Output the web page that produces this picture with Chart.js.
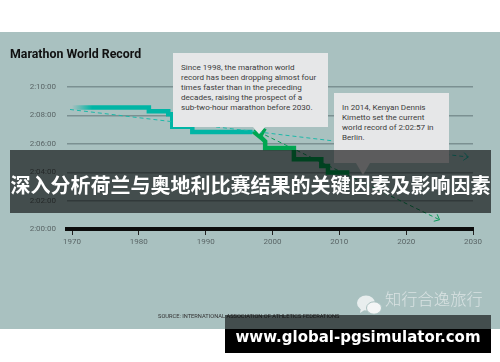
<!DOCTYPE html>
<html lang="zh-CN">
<head>
<meta charset="UTF-8">
<title>Marathon World Record</title>
<style>
    html, body { margin: 0; padding: 0; background: #fff; }
    #page { position: relative; width: 500px; height: 362px; overflow: hidden; font-family: Roboto, sans-serif; }
    #panel { position: absolute; left: 0; top: 32px; width: 500px; height: 297px; background: #a9c1c0; }
    #chart-box { position: absolute; left: 0; top: 0; width: 500px; height: 362px; }
    #title { position: absolute; left: 10px; top: 46px; font-size: 12.35px; line-height: 16px; font-weight: 700; color: #111; }
    .note { position: absolute; background: #e6e7e8; color: #3c3c3c; font-size: 8.1px; line-height: 10px; box-sizing: border-box; white-space: pre; }
    .tip { position: absolute; width: 0; height: 0; border-style: solid; border-color: #e6e7e8 transparent transparent transparent; }
    #source { position: absolute; left: 158px; top: 313px; font-size: 5.7px; line-height: 7px; color: #333; white-space: pre; }
    #wechat { position: absolute; left: 385px; top: 287px; font: 300 16.3px "Noto Sans CJK SC", sans-serif; line-height: 22px; color: #d9e2e2; }
    #banner { position: absolute; left: 10px; top: 150px; width: 481px; height: 63px; background: rgba(0,0,0,.6); color: #fff; font: 700 20px "Noto Sans CJK SC", sans-serif; line-height: 70px; text-align: center; white-space: pre; }
    #url-top { position: absolute; left: 225px; top: 315px; width: 266px; height: 14px; background: rgba(0,0,0,.6); }
    #url { position: absolute; left: 225px; top: 329px; width: 266px; height: 24px; background: #000; color: #fff; font: 700 15px "DejaVu Sans", sans-serif; line-height: 17px; text-align: center; white-space: pre; }
</style>
</head>
<body>
<div id="page">
    <div id="panel"></div>
    <div id="chart-box"><canvas id="chart" width="500" height="362"></canvas></div>
    <div id="title">Marathon World Record</div>
    <div class="note" style="left:173px;top:53px;width:155px;height:74px;padding:9px 8px">Since 1998, the marathon world
record has been dropping almost four
times faster than in the preceding
decades, raising the prospect of a
sub-two-hour marathon before 2030.</div>
    <div class="tip" style="left:253px;top:127px;border-width:7px 6px 0 6px"></div>
    <div class="note" style="left:334px;top:93px;width:115px;height:70px;padding:9px 8px">In 2014, Kenyan Dennis
Kimetto set the current
world record of 2:02:57 in
Berlin.</div>
    <div class="tip" style="left:356px;top:163px;border-width:12px 7px 0 7px"></div>
    <div id="source">SOURCE: INTERNATIONAL ASSOCIATION OF ATHLETICS FEDERATIONS</div>
    <svg style="position:absolute;left:356px;top:294px" width="26" height="22" viewBox="0 0 26 22">
        <ellipse cx="10" cy="9" rx="9" ry="7.5" fill="#e8eeee"/>
        <path d="M5 14 L4 19 L10 15 Z" fill="#e8eeee"/>
        <ellipse cx="18" cy="14" rx="7.5" ry="6.2" fill="#f4f6f6" stroke="#a9c1c0"/>
    </svg>
    <div id="wechat">知行合逸旅行</div>
    <div id="banner">深入分析荷兰与奥地利比赛结果的关键因素及影响因素</div>
    <div id="url-top"></div>
    <div id="url">www.global-pgsimulator.com</div>
</div>

<script src="https://cdn.jsdelivr.net/npm/chart.js"></script>
<script>
    // 世界纪录 (year, time)
    const tealYears = [1970, 1981.5, 1984.4, 1985, 1988, 1997];
    const tealTimes = ['2:08:33', '2:08:18', '2:08:05', '2:07:12', '2:06:50', '2:06:50'];

    // green part has a slanted start, so every corner is listed
    const greenYears = [1997.1, 1998.4, 1998.9, 1998.9, 2003.2, 2003.2, 2007.3, 2007.3, 2008.3, 2008.3, 2011.5];
    const greenTimes = ['2:06:53', '2:06:24', '2:06:10', '2:05:42', '2:05:42', '2:04:55', '2:04:55', '2:04:26', '2:04:26', '2:03:59', '2:03:59'];
    const armYears = [1998.2, 1998.9];
    const armTimes = ['2:06:32', '2:07:04'];

    // dashed trends
    const trendOldYears = [1969.7, 2029.3];
    const trendOldTimes = ['2:08:25', '2:05:04'];
    const trendNewYears = [1998.9, 2025];
    const trendNewTimes = ['2:06:37', '2:00:39'];

    const xTickYears = [1970, 1980, 1990, 2000, 2010, 2020, 2030];
    const yTickTimes = ['2:00:00', '2:02:00', '2:04:00', '2:06:00', '2:08:00', '2:10:00'];

    function toSeconds(t) {
        const p = t.split(':').map(Number);
        return p[0] * 3600 + p[1] * 60 + p[2];
    }
    function toLabel(s) {
        const m = Math.floor((s - 7200) / 60);
        const sec = s % 60;
        return `2:${String(m).padStart(2, '0')}:${String(sec).padStart(2, '0')}`;
    }
    function points(years, times) {
        return years.map((y, i) => ({ x: y, y: toSeconds(times[i]) }));
    }

    // teal line fades in at its start
    function tealFade(context) {
        const chart = context.chart;
        if (!chart.chartArea) return '#00b5a5';
        const x0 = chart.scales.x.getPixelForValue(1970);
        const x1 = chart.scales.x.getPixelForValue(1973);
        const g = chart.ctx.createLinearGradient(x0, 0, x1, 0);
        g.addColorStop(0, 'rgba(0,181,165,0)');
        g.addColorStop(1, 'rgba(0,181,165,1)');
        return g;
    }

    // open arrow head on the end of dashed lines
    const arrowHeads = {
        id: 'arrowHeads',
        afterDatasetsDraw(chart) {
            const ctx = chart.ctx;
            chart.data.datasets.forEach((ds, i) => {
                if (!ds.arrow) return;
                const pts = chart.getDatasetMeta(i).data;
                const a = pts[pts.length - 2], b = pts[pts.length - 1];
                const ang = Math.atan2(b.y - a.y, b.x - a.x);
                ctx.save();
                ctx.strokeStyle = ds.borderColor;
                ctx.lineWidth = 1;
                ctx.beginPath();
                ctx.moveTo(b.x - 6 * Math.cos(ang - 0.7), b.y - 6 * Math.sin(ang - 0.7));
                ctx.lineTo(b.x, b.y);
                ctx.lineTo(b.x - 6 * Math.cos(ang + 0.7), b.y - 6 * Math.sin(ang + 0.7));
                ctx.stroke();
                ctx.restore();
            });
        }
    };

    const stepStyle = { borderWidth: 4.5, pointRadius: 0, fill: false, borderCapStyle: 'butt', borderJoinStyle: 'miter' };
    const dashStyle = { borderWidth: 1, borderDash: [4, 3], pointRadius: 0, fill: false, arrow: true };

    new Chart(document.getElementById('chart').getContext('2d'), {
        type: 'line',
        data: {
            datasets: [
                { ...dashStyle, data: points(trendOldYears, trendOldTimes), borderColor: '#1cb8a8' },
                { ...dashStyle, data: points(trendNewYears, trendNewTimes), borderColor: '#0a9a5a' },
                { ...stepStyle, stepped: 'before', data: points(tealYears, tealTimes), borderColor: tealFade },
                { ...stepStyle, data: points(greenYears, greenTimes), borderColor: '#00a651' },
                { ...stepStyle, borderWidth: 3.5, data: points(armYears, armTimes), borderColor: '#00a651' }
            ]
        },
        options: {
            responsive: false,
            animation: false,
            devicePixelRatio: 1,
            layout: { padding: { top: 87, bottom: 0, left: 0, right: 27 } },
            plugins: { legend: { display: false }, tooltip: { enabled: false } },
            scales: {
                x: {
                    type: 'linear',
                    min: 1969.25,
                    max: 2030,
                    afterFit(scale) { scale.height = 133; },
                    afterBuildTicks(scale) { scale.ticks = xTickYears.map(v => ({ value: v })); },
                    border: { display: true, color: '#0c0c0c', width: 4 },
                    grid: { drawOnChartArea: false, drawTicks: true, tickLength: 6, tickColor: '#222', tickWidth: 1 },
                    ticks: { autoSkip: false, maxRotation: 0, padding: 2, color: '#5a6566', font: { family: 'Roboto', size: 8 }, callback: v => String(v) }
                },
                y: {
                    type: 'linear',
                    min: toSeconds(yTickTimes[0]),
                    max: toSeconds(yTickTimes[yTickTimes.length - 1]),
                    afterFit(scale) { scale.width = 67; },
                    afterBuildTicks(scale) { scale.ticks = yTickTimes.map(t => ({ value: toSeconds(t) })); },
                    border: { display: false },
                    grid: { color: '#7b9091', lineWidth: 1.4, drawTicks: false },
                    ticks: { padding: 11, color: '#5a6566', font: { family: 'Roboto', size: 8 }, callback: v => toLabel(v) }
                }
            }
        },
        plugins: [arrowHeads]
    });
</script>
</body>
</html>
